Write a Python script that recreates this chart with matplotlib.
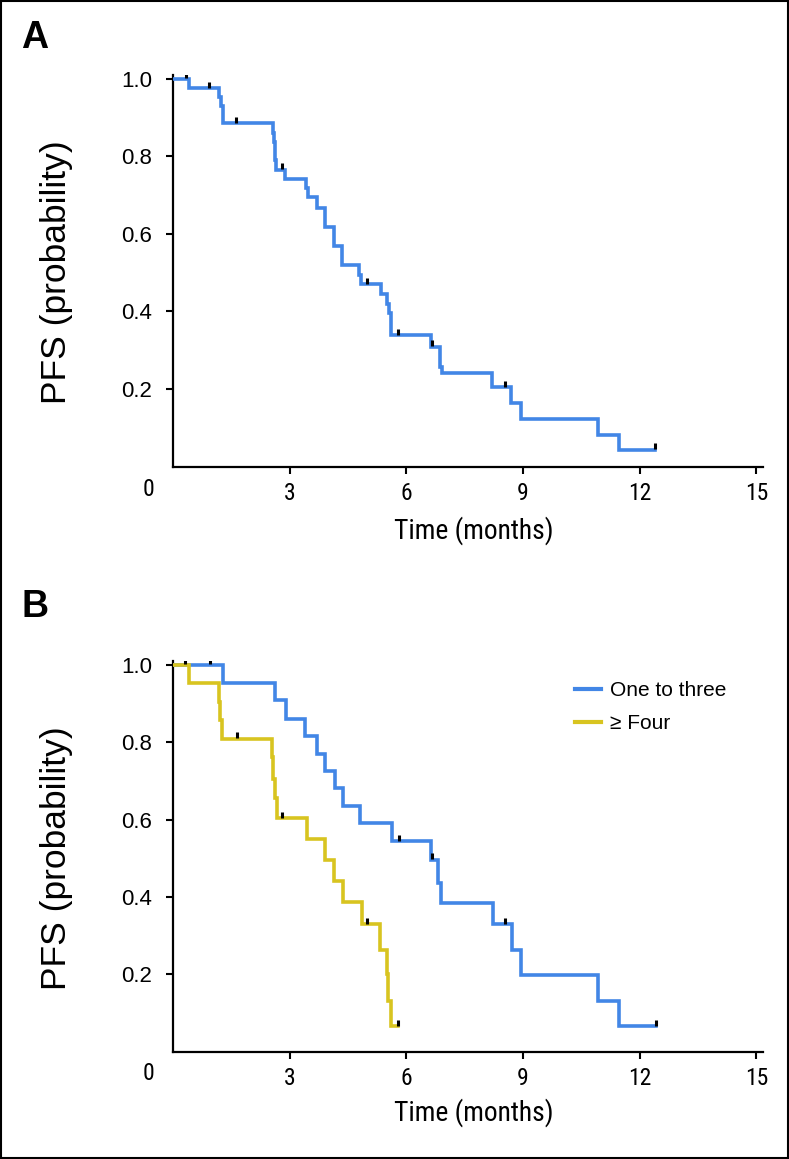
import numpy as np
import matplotlib
matplotlib.use("Agg")
import matplotlib.pyplot as plt
from matplotlib.patches import Rectangle
from matplotlib import font_manager as fm

# ---------------- data ----------------
# Panel A: all patients
a_times = [0, 0.42, 1.19, 1.23, 1.29, 2.56, 2.60, 2.62, 2.65, 2.89, 3.42, 3.46, 3.69, 3.91,
           4.13, 4.35, 4.78, 4.83, 5.34, 5.50, 5.55, 5.60, 6.64, 6.86, 6.91, 8.21, 8.69,
           8.95, 10.92, 11.47, 12.39]
a_surv = [1.0, 0.976, 0.952, 0.930, 0.886, 0.861, 0.836, 0.791, 0.765, 0.741, 0.718, 0.694,
          0.668, 0.617, 0.570, 0.520, 0.494, 0.470, 0.445, 0.420, 0.395, 0.339, 0.309, 0.257,
          0.240, 0.204, 0.165, 0.123, 0.081, 0.043, 0.043]
a_censor = [0.33, 0.93, 1.62, 2.80, 4.99, 5.79, 6.66, 8.53, 12.39]

# Panel B: One to three
b1_label = "One to three"
b1_times = [0, 1.29, 2.62, 2.90, 3.40, 3.69, 3.92, 4.16, 4.38, 4.81, 5.62, 6.64, 6.82, 6.89,
            8.22, 8.71, 8.95, 10.92, 11.47, 12.42]
b1_surv = [1.0, 0.954, 0.908, 0.861, 0.816, 0.770, 0.726, 0.681, 0.635, 0.591, 0.544, 0.496,
           0.437, 0.384, 0.329, 0.263, 0.198, 0.132, 0.066, 0.066]
b1_censor = [0.31, 0.95, 5.82, 6.66, 8.53, 12.42]

# Panel B: >= Four
b2_label = "\u2265 Four"
b2_times = [0, 0.42, 1.17, 1.21, 1.26, 2.54, 2.58, 2.62, 2.68, 3.44, 3.92, 4.14, 4.38, 4.85,
            5.32, 5.50, 5.53, 5.60, 5.78]
b2_surv = [1.0, 0.953, 0.905, 0.858, 0.809, 0.761, 0.704, 0.655, 0.604, 0.550, 0.496, 0.440,
           0.386, 0.330, 0.263, 0.200, 0.130, 0.066, 0.066]
b2_censor = [1.64, 2.80, 4.99, 5.78]

x_ticks = [3, 6, 9, 12, 15]
y_ticks = [0.2, 0.4, 0.6, 0.8, 1.0]

BLUE = "#4286e6"
YELLOW = "#d8c420"

W, H = 789, 1159
fig = plt.figure(figsize=(W / 100, H / 100), dpi=100)

REG = "Liberation Sans"

# look for an installed condensed / narrow sans face for the time axis
narrow_path = None
for f in fm.fontManager.ttflist:
    nm = f.name.lower()
    st = str(f.stretch).lower()
    if f.style != "normal" or str(f.weight) not in ("400", "normal", "regular"):
        continue
    if ("narrow" in nm or "condensed" in nm or st in ("condensed", "semi-condensed")) \
            and "mono" not in nm and "serif" not in nm.replace("sans", ""):
        narrow_path = f.fname
        if "liberation" in nm:
            break

if narrow_path:
    def nprop(size):
        return fm.FontProperties(fname=narrow_path, size=size)
    XT_SIZE, XL_SIZE = 17, 19.8
else:
    def nprop(size):
        return fm.FontProperties(family=REG, size=size)
    XT_SIZE, XL_SIZE = 15, 18.5


def px_axes(left, top, right, bottom):
    return [left / W, 1 - bottom / H, (right - left) / W, (bottom - top) / H]


def level_at(times, surv, t):
    i = np.searchsorted(np.asarray(times), t, side="right") - 1
    return np.asarray(surv)[i]


def km(ax, times, surv, censor, color, label=None):
    ax.step(times, surv, where="post", color=color, lw=2.6, label=label,
            solid_joinstyle="miter", zorder=3)
    ys = [level_at(times, surv, t) + 0.009 for t in censor]
    ax.plot(censor, ys, linestyle="none", marker="|", color="black",
            markersize=5, markeredgewidth=2.2, zorder=4)


def style(ax):
    ax.set_xlim(0, 15.17)
    ax.set_ylim(0, 1.01)
    for s in ["top", "right"]:
        ax.spines[s].set_visible(False)
    for s in ["left", "bottom"]:
        ax.spines[s].set_linewidth(1.6)
        ax.spines[s].set_color("black")
    ax.tick_params(axis="both", direction="out", length=5, width=1.5, color="black")
    ax.tick_params(axis="x", pad=6)
    ax.tick_params(axis="y", pad=10)
    ax.set_xticks(x_ticks)
    ax.set_xticklabels([str(v) for v in x_ticks], fontproperties=nprop(XT_SIZE))
    ax.set_yticks(y_ticks)
    ax.set_yticklabels([f"{v:.1f}" for v in y_ticks], family=REG, fontsize=16)
    ax.patch.set_alpha(0)


# Panel A
axA = fig.add_axes(px_axes(173, 75, 763, 466.5))
km(axA, a_times, a_surv, a_censor, BLUE)
style(axA)

# Panel B
axB = fig.add_axes(px_axes(173, 661, 763, 1051.7))
km(axB, b1_times, b1_surv, b1_censor, BLUE, b1_label)
km(axB, b2_times, b2_surv, b2_censor, YELLOW, b2_label)
style(axB)

leg = axB.legend(loc="upper left", bbox_to_anchor=(575 / W, 1 - 681 / H),
                 bbox_transform=fig.transFigure, frameon=False, borderpad=0,
                 borderaxespad=0, handlelength=1.25, handletextpad=0.45,
                 labelspacing=0.68, prop={"family": REG, "size": 15})
for line in leg.get_lines():
    line.set_linewidth(3)

# Axis titles and labels
for (yc, tl_y, time_y, letter, let_y) in [(272, 490, 531, "A", 48), (858, 1074, 1113, "B", 617)]:
    fig.text(57 / W, 1 - yc / H, "PFS (probability)", rotation=90, ha="center", va="center",
             family=REG, fontsize=25.5)
    fig.text(148 / W, 1 - tl_y / H, "0", ha="center", va="center", fontproperties=nprop(XT_SIZE))
    fig.text(474 / W, 1 - time_y / H, "Time (months)", ha="center", va="center",
             fontproperties=nprop(XL_SIZE))
    fig.text(21 / W, 1 - let_y / H, letter, ha="left", va="baseline", family=REG,
             fontweight="bold", fontsize=27)

# Figure border
fig.patches.append(Rectangle((0.001, 0.001), 0.998, 0.998, transform=fig.transFigure,
                             fill=False, edgecolor="black", linewidth=1.5))

fig.savefig("out.png", dpi=100)
